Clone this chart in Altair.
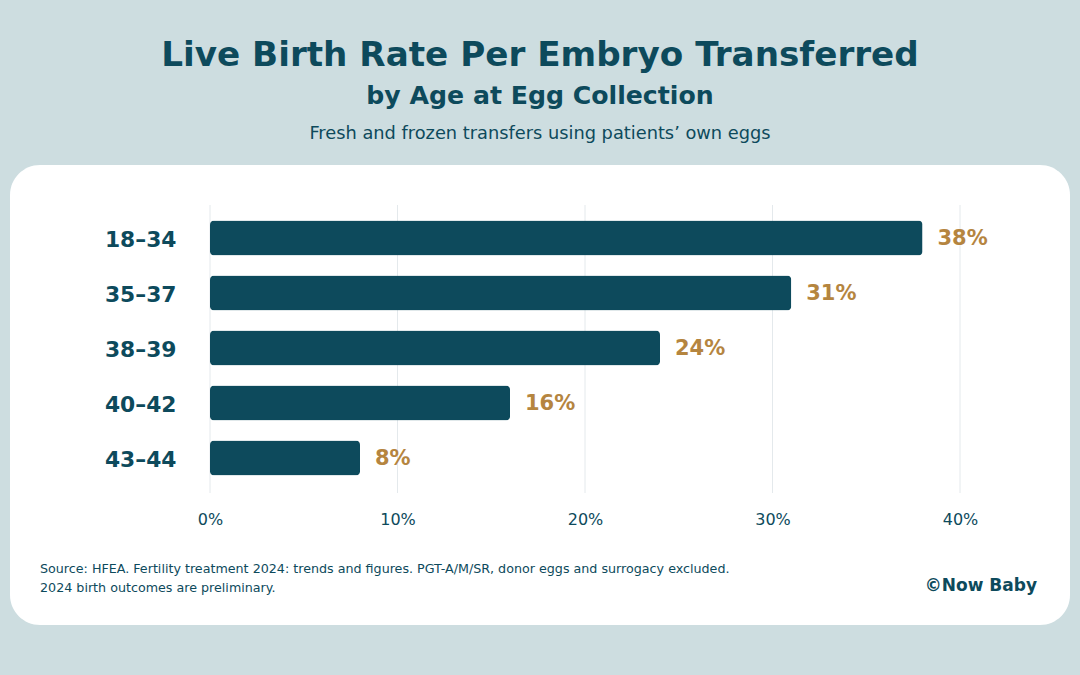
import altair as alt
import pandas as pd

# Live birth rate per embryo transferred, by age band at egg collection
age_bands = ["18–34", "35–37", "38–39", "40–42", "43–44"]
birth_rates = [38, 31, 24, 16, 8]
x_ticks = [0, 10, 20, 30, 40]

title_text = "Live Birth Rate Per Embryo Transferred"
subtitle_text = "by Age at Egg Collection"
note_text = "Fresh and frozen transfers using patients’ own eggs"
source_lines = [
    "Source: HFEA. Fertility treatment 2024: trends and figures. PGT-A/M/SR, donor eggs and surrogacy excluded.",
    "2024 birth outcomes are preliminary.",
]
credit_text = "©Now Baby"

BG = "#cddde0"
DARK = "#0d4a5c"
GOLD = "#b5853f"
GRID = "#e4e9ec"
FONT = "DejaVu Sans"

PLOT_H = 286
GRID_H = 288

df = pd.DataFrame({"age": age_bands, "rate": birth_rates})
ticks_df = pd.DataFrame({"tick": x_ticks})
one = pd.DataFrame({"k": [0]})

x_scale = alt.Scale(domain=[0, 40], nice=False)
y_scale = alt.Scale(domain=age_bands, paddingInner=0.364, paddingOuter=0.282)

x_axis = alt.Axis(
    values=x_ticks,
    labelExpr="datum.value + '%'",
    labelFlush=False,
    grid=False,
    ticks=False,
    domain=False,
    title=None,
    labelFont=FONT,
    labelFontSize=16,
    labelColor=DARK,
    labelPadding=20,
    zindex=1,
)
y_axis = alt.Axis(
    ticks=False,
    domain=False,
    grid=False,
    title=None,
    labelFont=FONT,
    labelFontSize=21.8,
    labelFontWeight="bold",
    labelColor=DARK,
    labelPadding=34,
    labelOffset=1.5,
    zindex=1,
)

# White rounded card behind the chart body
card = alt.Chart(one).mark_rect(fill="white", cornerRadius=30).encode(
    x=alt.value(-200), x2=alt.value(860), y=alt.value(-40), y2=alt.value(420)
)

grid = alt.Chart(ticks_df).mark_rule(color=GRID, strokeWidth=1).encode(
    x=alt.X("tick:Q", scale=x_scale, axis=x_axis),
    y=alt.value(0),
    y2=alt.value(GRID_H),
)

bars = alt.Chart(df).mark_bar(color=DARK, cornerRadius=4).encode(
    x=alt.X("rate:Q", scale=x_scale, axis=x_axis),
    y=alt.Y("age:N", scale=y_scale, sort=age_bands, axis=y_axis),
)

values = alt.Chart(df).mark_text(
    align="left", baseline="middle", dx=15, dy=0.5, font=FONT, fontSize=21,
    fontWeight="bold", color=GOLD,
).encode(
    x=alt.X("rate:Q", scale=x_scale, axis=x_axis),
    y=alt.Y("age:N", scale=y_scale, sort=age_bands, axis=y_axis),
    text=alt.Text("label:N"),
).transform_calculate(label="datum.rate + '%'")

title = alt.Chart(one).mark_text(
    text=title_text, align="center", baseline="alphabetic", font=FONT,
    fontSize=34.2, fontWeight="bold", color=DARK,
).encode(x=alt.value(330), y=alt.value(-139))

subtitle = alt.Chart(one).mark_text(
    text=subtitle_text, align="center", baseline="alphabetic", font=FONT,
    fontSize=25.2, fontWeight="bold", color=DARK,
).encode(x=alt.value(330), y=alt.value(-101))

note = alt.Chart(one).mark_text(
    text=note_text, align="center", baseline="alphabetic", font=FONT,
    fontSize=17.8, color=DARK,
).encode(x=alt.value(330), y=alt.value(-66))

source1 = alt.Chart(one).mark_text(
    text=source_lines[0], align="left", baseline="alphabetic", font=FONT,
    fontSize=12.7, color=DARK,
).encode(x=alt.value(-170), y=alt.value(368))

source2 = alt.Chart(one).mark_text(
    text=source_lines[1], align="left", baseline="alphabetic", font=FONT,
    fontSize=12.7, color=DARK,
).encode(x=alt.value(-170), y=alt.value(387))

credit = alt.Chart(one).mark_text(
    text=credit_text, align="right", baseline="alphabetic", font=FONT,
    fontSize=17, fontWeight="bold", color=DARK,
).encode(x=alt.value(827), y=alt.value(386))

chart = alt.layer(
    card, grid, bars, values, title, subtitle, note, source1, source2, credit
).properties(
    width=750,
    height=PLOT_H,
    background=BG,
    padding={"left": 210, "top": 205, "right": 120, "bottom": 675 - 205 - PLOT_H},
    autosize=alt.AutoSizeParams(type="none"),
).configure_view(stroke=None)

chart.save("out.html", embed_options={"renderer": "svg", "actions": False})
